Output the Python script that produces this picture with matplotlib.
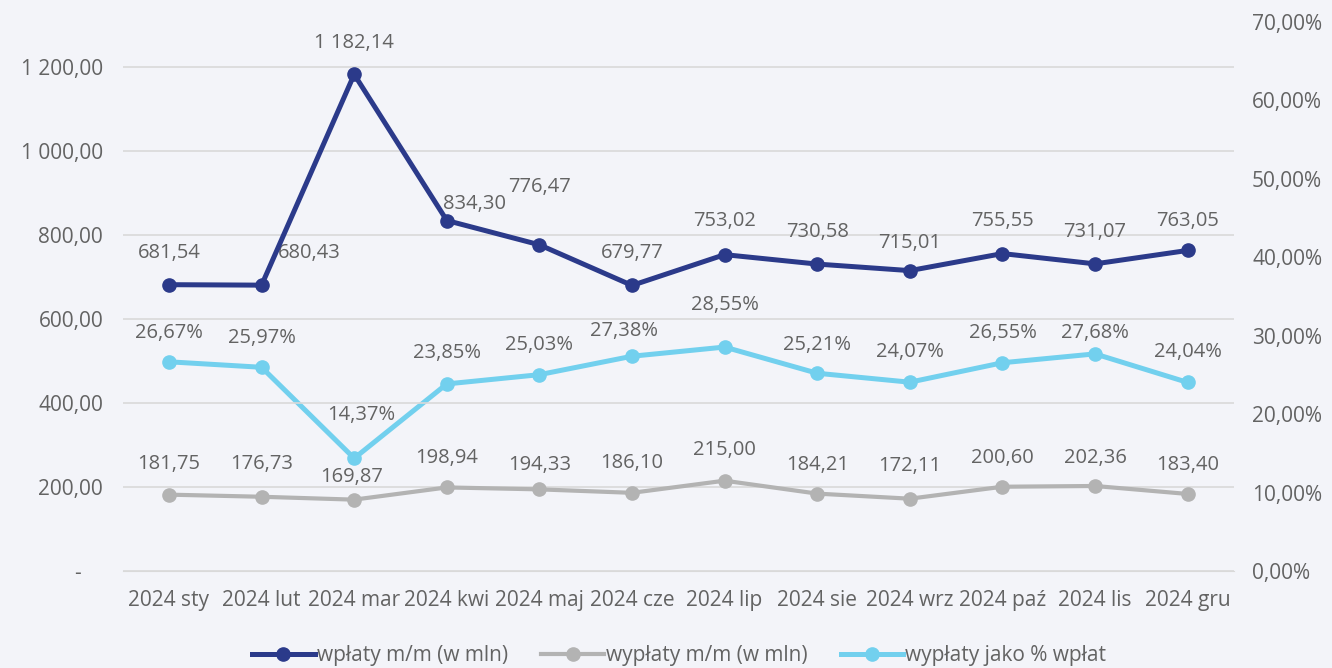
import matplotlib.pyplot as plt
from matplotlib.ticker import FuncFormatter

plt.rcParams["font.family"] = ["Open Sans", "DejaVu Sans"]
plt.rcParams["font.size"] = 15

# dane
miesiace = ["2024 sty", "2024 lut", "2024 mar", "2024 kwi", "2024 maj", "2024 cze",
            "2024 lip", "2024 sie", "2024 wrz", "2024 paź", "2024 lis", "2024 gru"]
wplaty = [681.54, 680.43, 1182.14, 834.30, 776.47, 679.77, 753.02, 730.58, 715.01, 755.55, 731.07, 763.05]
wyplaty = [181.75, 176.73, 169.87, 198.94, 194.33, 186.10, 215.00, 184.21, 172.11, 200.60, 202.36, 183.40]
procent = [26.67, 25.97, 14.37, 23.85, 25.03, 27.38, 28.55, 25.21, 24.07, 26.55, 27.68, 24.04]

# przesuniecia etykiet (piksele)
off_wplaty = [(0, 32), (48, 32), (0, 31), (28, 17), (0, 58), (0, 32),
              (0, 34), (0, 32), (0, 28), (0, 33), (0, 32), (0, 29)]
off_wyplaty = [(0, 31), (0, 33), (-3, 23), (0, 29), (0, 24), (0, 30),
               (0, 31), (0, 29), (0, 33), (0, 29), (0, 28), (0, 29)]
off_procent = [(0, 29), (0, 29), (7, 43), (0, 31), (0, 30), (-8, 25),
               (0, 42), (0, 28), (0, 30), (0, 30), (0, 21), (0, 30)]

tlo = "#f3f4f9"
tekst = "#636363"
granat = "#2b3a8a"
szary = "#b3b3b3"
blekit = "#72d0ee"


def pl_num(v):
    s = f"{v:,.2f}"
    return s.replace(",", " ").replace(".", ",")


fig = plt.figure(figsize=(13.32, 6.68), dpi=100, facecolor=tlo)
ax = fig.add_axes([0.0921, 0.1452, 0.8343, 0.822])
ax.set_facecolor(tlo)
ax2 = ax.twinx()

x = list(range(len(miesiace)))

l1, = ax.plot(x, wplaty, color=granat, lw=3.6, marker="o", ms=9.5, zorder=5, label="wpłaty m/m (w mln)")
l2, = ax.plot(x, wyplaty, color=szary, lw=3.0, marker="o", ms=9.5, zorder=4, label="wypłaty m/m (w mln)")
l3, = ax2.plot(x, [p / 100 for p in procent], color=blekit, lw=3.6, marker="o", ms=9.5, zorder=5,
               label="wypłaty jako % wpłat")

for i in x:
    ax.annotate(pl_num(wplaty[i]), (i, wplaty[i]), xytext=off_wplaty[i], textcoords="offset pixels",
                ha="center", va="center", color=tekst, fontsize=14.5)
    ax.annotate(pl_num(wyplaty[i]), (i, wyplaty[i]), xytext=off_wyplaty[i], textcoords="offset pixels",
                ha="center", va="center", color=tekst, fontsize=14.5)
    ax2.annotate(pl_num(procent[i]) + "%", (i, procent[i] / 100), xytext=off_procent[i],
                 textcoords="offset pixels", ha="center", va="center", color=tekst, fontsize=14.5)

ax.set_xlim(-0.5, len(miesiace) - 0.5)
ax.set_ylim(0, 1307)
ax2.set_ylim(0, 0.70)
ax.set_yticks([0, 200, 400, 600, 800, 1000, 1200])
ax2.set_yticks([i / 10 for i in range(8)])
ax.yaxis.set_major_formatter(FuncFormatter(lambda v, p: "-\u00a0\u00a0\u00a0\u00a0" if v == 0 else pl_num(v)))
ax2.yaxis.set_major_formatter(FuncFormatter(lambda v, p: pl_num(v * 100) + "%"))

ax.set_xticks(x)
ax.set_xticklabels(miesiace)
ax.grid(axis="y", color="#d9d9d9", lw=1.2)
ax.set_axisbelow(True)

for a in (ax, ax2):
    for s in a.spines.values():
        s.set_visible(False)
    a.tick_params(length=0, colors=tekst, labelsize=15)
ax.spines["bottom"].set_visible(True)
ax.spines["bottom"].set_color("#d9d9d9")
ax.tick_params(axis="x", pad=14)
ax.tick_params(axis="y", pad=14)
ax2.tick_params(axis="y", pad=13)

ax.set_zorder(ax2.get_zorder() + 1)
ax.patch.set_visible(False)
ax2.patch.set_visible(True)
ax2.set_facecolor(tlo)

fig.legend(handles=[l1, l2, l3], loc="lower center", bbox_to_anchor=(0.51, -0.025), ncol=3,
           frameon=False, fontsize=15, handlelength=3.0, columnspacing=1.6, handletextpad=0.1,
           labelcolor=tekst)

fig.savefig("out.png", dpi=100, facecolor=tlo)
